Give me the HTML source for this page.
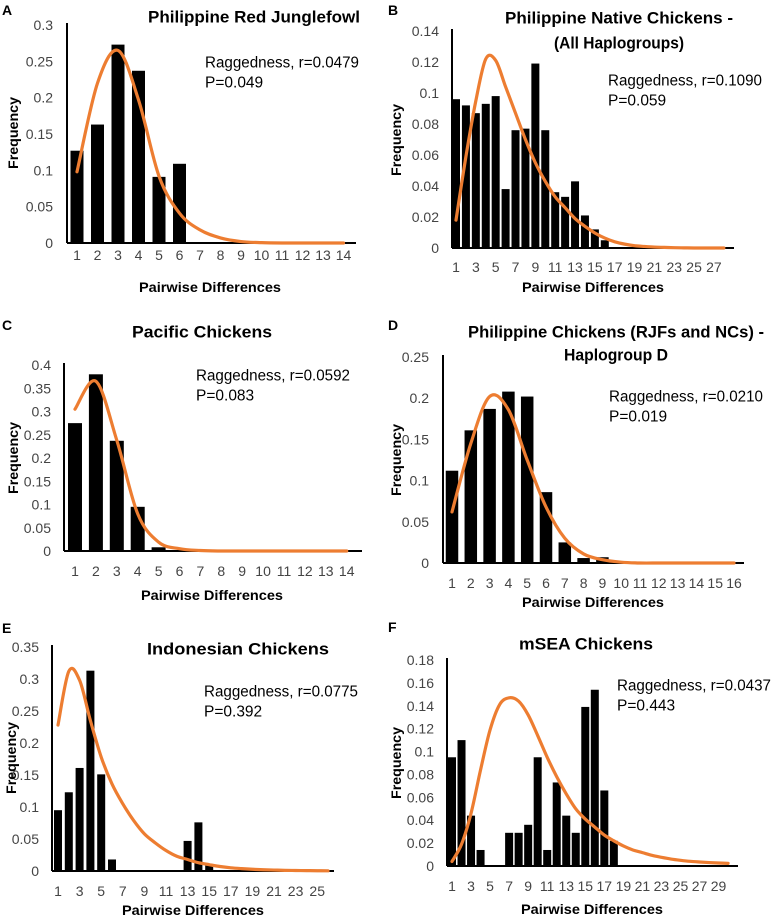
<!DOCTYPE html>
<html><head><meta charset="utf-8">
<style>
html,body{margin:0;padding:0;background:#fff;}
svg{display:block;font-family:"Liberation Sans",sans-serif;}
.tk{font-size:14px;fill:#444;}
.ti{font-size:17px;font-weight:bold;fill:#000;}
.ax{font-size:14px;font-weight:bold;fill:#000;}
.rg{font-size:15.5px;fill:#000;}
.lt{font-size:14px;font-weight:bold;fill:#000;}
</style></head>
<body>
<svg id="fig" width="772" height="918" viewBox="0 0 772 918" xmlns="http://www.w3.org/2000/svg"></svg>
<script>
// ---- data ----
const aBars = [0.127,0.163,0.273,0.237,0.091,0.109,0,0,0,0,0,0,0,0];
const aCurve = [0.098,0.22,0.265,0.197,0.092,0.041,0.018,0.007,0.002,0.0005,0,0,0,0];
const aYTicks = ["0","0.05","0.1","0.15","0.2","0.25","0.3"];
const bBars = [0.096,0.092,0.087,0.093,0.098,0.038,0.076,0.077,0.119,0.076,0.036,0.033,0.043,0.021,0.012,0.005,0,0,0,0,0,0,0,0,0,0,0,0];
const bCurve = [0.018,0.059,0.095,0.122,0.121,0.104,0.087,0.070,0.055,0.043,0.033,0.026,0.019,0.014,0.0097,0.0064,0.004,0.0025,0.0015,0.001,0.0006,0.0004,0.0002,0.0001,0,0,0,0];
const bYTicks = ["0","0.02","0.04","0.06","0.08","0.1","0.12","0.14"];
const cBars = [0.275,0.38,0.237,0.095,0.008,0.002,0,0,0,0,0,0,0,0];
const cCurve = [0.305,0.365,0.238,0.08,0.019,0.005,0.001,0,0,0,0,0,0,0];
const cYTicks = ["0","0.05","0.1","0.15","0.2","0.25","0.3","0.35","0.4"];
const dBars = [0.112,0.161,0.187,0.208,0.202,0.086,0.025,0.006,0.007,0,0,0,0,0,0,0];
const dCurve = [0.062,0.145,0.202,0.186,0.125,0.068,0.030,0.011,0.004,0.001,0,0,0,0,0,0];
const dYTicks = ["0","0.05","0.1","0.15","0.2","0.25"];
const eBars = [0.095,0.123,0.161,0.313,0.151,0.018,0,0,0,0,0,0,0.047,0.076,0.009,0,0,0,0,0,0,0,0,0,0,0];
const eCurve = [0.228,0.312,0.298,0.235,0.178,0.136,0.105,0.079,0.058,0.044,0.032,0.023,0.018,0.013,0.0099,0.007,0.005,0.0037,0.0027,0.002,0.0015,0.001,0.0008,0.0006,0.0004,0.0003];
const eYTicks = ["0","0.05","0.1","0.15","0.2","0.25","0.3","0.35"];
const fBars = [0.095,0.11,0.044,0.014,0,0,0.029,0.029,0.036,0.095,0.014,0.073,0.044,0.029,0.139,0.154,0.066,0.022,0,0,0,0,0,0,0,0,0,0,0,0];
const fCurve = [0.004,0.019,0.046,0.084,0.119,0.141,0.147,0.144,0.132,0.114,0.095,0.078,0.063,0.050,0.041,0.034,0.027,0.022,0.0175,0.014,0.0117,0.0093,0.0076,0.0061,0.005,0.0041,0.0035,0.003,0.0026,0.0023];
const fYTicks = ["0","0.02","0.04","0.06","0.08","0.1","0.12","0.14","0.16","0.18"];

const NS = "http://www.w3.org/2000/svg";
const svg = document.getElementById("fig");
function mk(tag, parent, attrs){
  const e = document.createElementNS(NS, tag);
  for (const k in attrs) e.setAttribute(k, attrs[k]);
  parent.appendChild(e);
  return e;
}
function txt(parent, x, y, s, cls, anchor, extra){
  const t = mk("text", parent, Object.assign({x:x, y:y, "class":cls, "text-anchor":anchor||"start", "dominant-baseline":"central"}, extra||{}));
  t.textContent = s;
  return t;
}

function panel(p){
  const g = mk("g", svg, {});
  
  
  const yMax = parseFloat(p.yTicks[p.yTicks.length-1]);
  const ys = v => p.base - (v / yMax) * (p.base - p.top);
  const xs = i => p.c1 + (i) * p.sp;
  const n = p.bars.length;
  p.bars.forEach((v, i) => {
    if (v <= 0) return;
    const r = mk("rect", g, {x: xs(i) - p.bw/2, y: ys(v), width: p.bw, height: p.base - ys(v), fill: "#000"});
    
    
  });
  const ya = mk("line", g, {x1: p.ax, y1: ys(yMax) - 2, x2: p.ax, y2: p.base, stroke: "#000", "stroke-width": 2});
  
  
  const xa = mk("line", g, {x1: p.ax, y1: p.base, x2: p.axEnd, y2: p.base, stroke: "#000", "stroke-width": 2});
  
  
  const pts = p.curve.map((v, i) => [xs(i), ys(v)]);
  let d = "M" + pts[0][0] + "," + pts[0][1];
  for (let i = 0; i < pts.length - 1; i++) {
    const p0 = pts[Math.max(0, i-1)], p1 = pts[i], p2 = pts[i+1], p3 = pts[Math.min(pts.length-1, i+2)];
    const c1x = p1[0] + (p2[0]-p0[0])/6, c1y = p1[1] + (p2[1]-p0[1])/6;
    const c2x = p2[0] - (p3[0]-p1[0])/6, c2y = p2[1] - (p3[1]-p1[1])/6;
    d += " C" + c1x + "," + c1y + " " + c2x + "," + c2y + " " + p2[0] + "," + p2[1];
  }
  const cv = mk("path", g, {d: d, fill: "none", stroke: "#ED7D31", "stroke-width": 3.2, "stroke-linecap": "round"});
  
  
  p.yTicks.forEach(s => {
    const t = txt(g, p.yl, ys(parseFloat(s)), s, "tk", "end");
    
    
  });
  for (let i = 0; i < n; i += p.step) {
    const t = txt(g, xs(i), p.xty, String(i+1), "tk", "middle");
    
    
  }
  const xt = txt(g, p.xtx, p.xtTitleY, "Pairwise Differences", "ax", "middle", {textLength: 142, lengthAdjust: "spacingAndGlyphs"});
  
  
  const yt = txt(g, 0, 0, "Frequency", "ax", "middle", {transform: "translate(" + p.fx + "," + p.fy + ") rotate(-90)", textLength: 72, lengthAdjust: "spacingAndGlyphs"});
  
  
  p.title.forEach((line, k) => {
    const t = txt(g, line[1], line[2], line[0], "ti", "middle", {textLength: line[3], lengthAdjust: "spacingAndGlyphs"});
    
    
  });
  const r1 = txt(g, p.rx, p.ry, p.rag, "rg", "start", {textLength: 154, lengthAdjust: "spacingAndGlyphs"});
  
  
  const r2 = txt(g, p.rx, p.ry + 20, p.pv, "rg", "start");
  
  
  const lt = txt(g, p.lx, p.ly, p.id.toUpperCase(), "lt", "start");
  
  
}

panel({id:"a", bars:aBars, curve:aCurve, yTicks:aYTicks, base:243, top:25, c1:77, sp:20.5, bw:13, ax:67, axEnd:356, yl:53, xty:255, step:1,
  xtx:210, xtTitleY:287, fx:13, fy:133, title:[["Philippine Red Junglefowl",254,17,212]], rx:205, ry:63, rag:"Raggedness, r=0.0479", pv:"P=0.049", lx:2, ly:10});
panel({id:"b", bars:bBars, curve:bCurve, yTicks:bYTicks, base:248, top:31, c1:456, sp:9.92, bw:8, ax:452, axEnd:734, yl:439, xty:267, step:2,
  xtx:593, xtTitleY:287, fx:396, fy:140, title:[["Philippine Native Chickens -",619,18,228],["(All Haplogroups)",619,43,130]], rx:608, ry:81, rag:"Raggedness, r=0.1090", pv:"P=0.059", lx:388, ly:10});
panel({id:"c", bars:cBars, curve:cCurve, yTicks:cYTicks, base:551, top:365, c1:75, sp:20.9, bw:14, ax:64, axEnd:362, yl:51, xty:571, step:1,
  xtx:212, xtTitleY:595, fx:13, fy:458, title:[["Pacific Chickens",202,332,140]], rx:196, ry:376, rag:"Raggedness, r=0.0592", pv:"P=0.083", lx:2, ly:325});
panel({id:"d", bars:dBars, curve:dCurve, yTicks:dYTicks, base:563, top:357, c1:452, sp:18.8, bw:12.5, ax:443, axEnd:744, yl:429, xty:583, step:1,
  xtx:593, xtTitleY:602, fx:396, fy:460, title:[["Philippine Chickens (RJFs and NCs) -",616,332,296],["Haplogroup D",616,355,104]], rx:609, ry:397, rag:"Raggedness, r=0.0210", pv:"P=0.019", lx:388, ly:325});
panel({id:"e", bars:eBars, curve:eCurve, yTicks:eYTicks, base:871, top:647, c1:58, sp:10.8, bw:8, ax:52, axEnd:334, yl:39, xty:891, step:2,
  xtx:193, xtTitleY:910, fx:11, fy:758, title:[["Indonesian Chickens",238,649,182]], rx:204, ry:692, rag:"Raggedness, r=0.0775", pv:"P=0.392", lx:2, ly:628});
panel({id:"f", bars:fBars, curve:fCurve, yTicks:fYTicks, base:866, top:660, c1:452, sp:9.52, bw:8, ax:447, axEnd:738, yl:434, xty:886, step:2,
  xtx:592, xtTitleY:909, fx:396, fy:763, title:[["mSEA Chickens",586,644,134]], rx:617, ry:686, rag:"Raggedness, r=0.0437", pv:"P=0.443", lx:388, ly:627});
</script>
</body></html>
